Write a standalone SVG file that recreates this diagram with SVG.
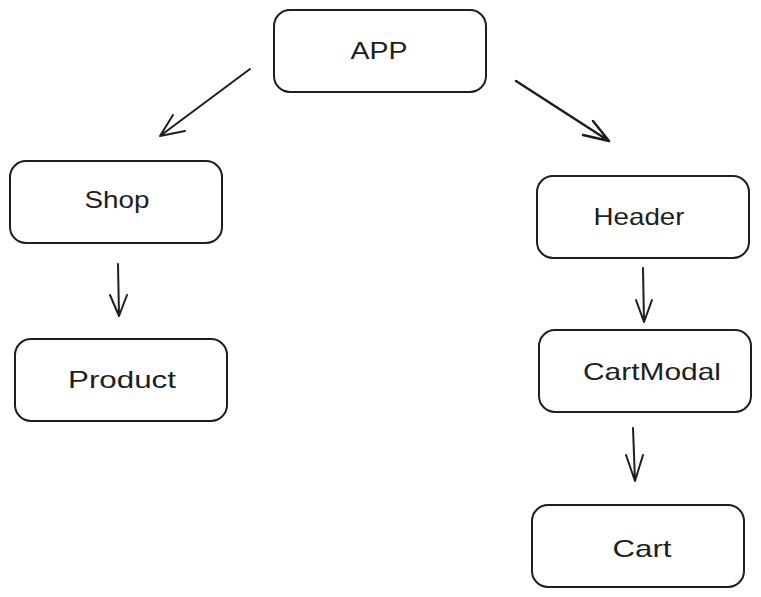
<svg xmlns="http://www.w3.org/2000/svg" width="761" height="597" viewBox="0 0 761 597">
<style>
.box{fill:#ffffff;stroke:#1e1e1e;stroke-width:2;}
.lbl{font-family:"Liberation Sans",Arial,sans-serif;font-size:24px;fill:#1e1e1e;text-anchor:middle;dominant-baseline:central;}
.arr{fill:none;stroke:#1e1e1e;stroke-width:2;stroke-linecap:round;stroke-linejoin:round;}
</style>
<rect width="761" height="597" fill="#ffffff"/>
<g id="connectors">
<path class="arr" d="M250,69 L160,136 M185,131 L160,136 L173,115"/>
<path class="arr" style="stroke-width:2.5" d="M516,81 L609,141 M593,121 L609,141 L583,135"/>
<path class="arr" d="M118,264 L119,316 M110,295 L119,316 L127,295"/>
<path class="arr" d="M643,268 L644,322 M636,300 L644,322 L652,300"/>
<path class="arr" d="M633,428 L635,481 M626,455 L635,481 L643,455"/>
</g>
<g id="app"><rect class="box" x="274" y="10" width="212" height="82" rx="16"/><text class="lbl" x="379" y="50" textLength="57" lengthAdjust="spacingAndGlyphs">APP</text></g>
<g id="shop"><rect class="box" x="10" y="161" width="212" height="82" rx="16"/><text class="lbl" x="117" y="199" textLength="65" lengthAdjust="spacingAndGlyphs">Shop</text></g>
<g id="product"><rect class="box" x="15" y="339" width="212" height="82" rx="16"/><text class="lbl" x="122" y="379" textLength="108" lengthAdjust="spacingAndGlyphs">Product</text></g>
<g id="header"><rect class="box" x="537" y="176" width="212" height="82" rx="16"/><text class="lbl" x="639" y="216" textLength="91" lengthAdjust="spacingAndGlyphs">Header</text></g>
<g id="cartmodal"><rect class="box" x="539" y="330" width="212" height="82" rx="16"/><text class="lbl" x="652" y="371" textLength="138" lengthAdjust="spacingAndGlyphs">CartModal</text></g>
<g id="cart"><rect class="box" x="532" y="505" width="212" height="82" rx="16"/><text class="lbl" x="642" y="548" textLength="59" lengthAdjust="spacingAndGlyphs">Cart</text></g>
</svg>
